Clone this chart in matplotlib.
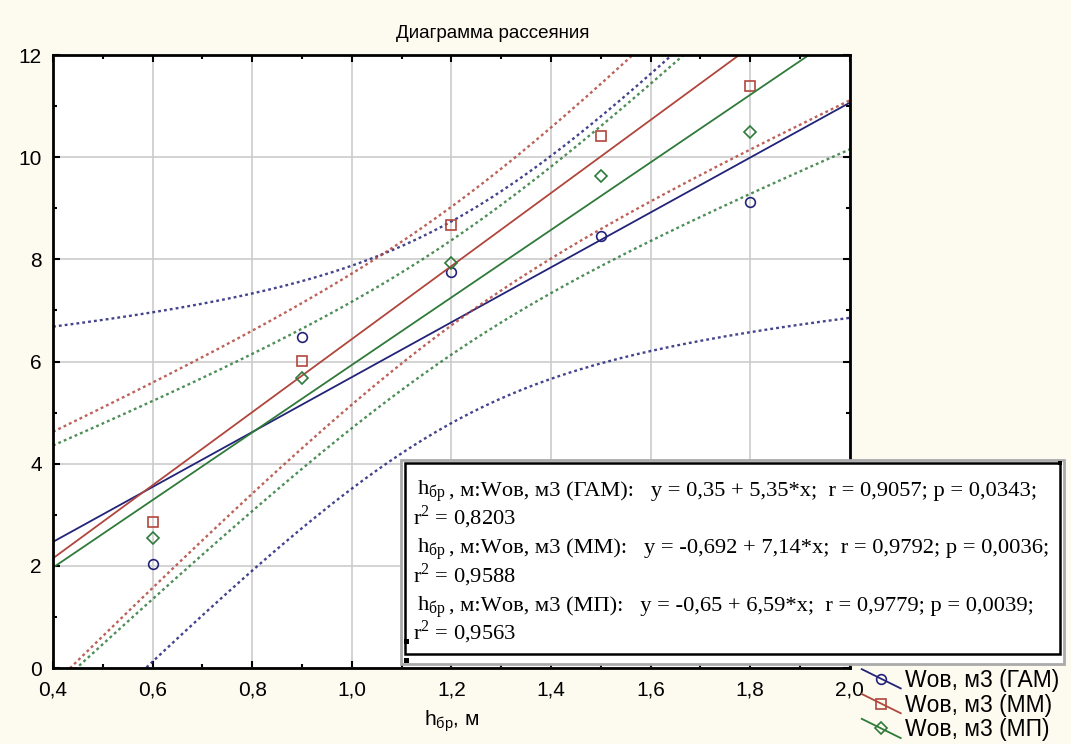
import numpy as np
import matplotlib.pyplot as plt
from matplotlib.ticker import MultipleLocator, FuncFormatter
from matplotlib.legend_handler import HandlerLine2D
from matplotlib.lines import Line2D
from matplotlib.patches import Rectangle
from matplotlib.transforms import offset_copy

# h_бр, м
x = np.array([0.6, 0.9, 1.2, 1.5, 1.8])
# Wов, м3 for three methods
w_gam = np.array([2.04, 6.49, 7.75, 8.45, 9.12])
w_mm = np.array([2.86, 6.02, 8.67, 10.41, 11.39])
w_mp = np.array([2.55, 5.68, 7.93, 9.63, 10.49])

names = ["Wов, м3 (ГАМ)", "Wов, м3 (ММ)", "Wов, м3 (МП)"]
colors = ["#23237a", "#b0463c", "#2f7a3a"]
markers = ["o", "s", "D"]
msizes = [7, 7, 6]

stats = [
    ("ГАМ", "y = 0,35 + 5,35*x;  r = 0,9057; p = 0,0343;", "0,8203"),
    ("ММ", "y = -0,692 + 7,14*x;  r = 0,9792; p = 0,0036;", "0,9588"),
    ("МП", "y = -0,65 + 6,59*x;  r = 0,9779; p = 0,0039;", "0,9563"),
]

T_975_3 = 3.182  # t quantile, 3 dof


class DiagHandler(HandlerLine2D):
    # legend key drawn as a slanted line with the marker in the middle
    def create_artists(self, legend, orig, xd, yd, width, height, fontsize, trans):
        ymid = (height - yd) / 2
        ln = Line2D([-xd, -xd + width], [ymid + 0.6 * height, ymid - 0.6 * height],
                    color=orig.get_color(), lw=orig.get_linewidth(), transform=trans)
        mk = Line2D([-xd + width / 2], [ymid], ls="none",
                    marker=orig.get_marker(), ms=orig.get_markersize(), mfc="none",
                    mec=orig.get_color(), mew=1.2, transform=trans)
        return [ln, mk]


plt.rcParams['font.family'] = ['Liberation Sans', 'DejaVu Sans']
plt.rcParams['mathtext.fontset'] = 'custom'
plt.rcParams['mathtext.rm'] = 'Liberation Serif'
fig = plt.figure(figsize=(10.71, 7.44), dpi=100, facecolor="#fdfbf0")
ax = fig.add_axes([0.0495, 0.102, 0.744, 0.824])

xs = np.linspace(0.4, 2.0, 200)
handles = []
for y, c, m, ms, name in zip([w_gam, w_mm, w_mp], colors, markers, msizes, names):
    b, a = np.polyfit(x, y, 1)
    fit = a + b * xs
    res = y - (a + b * x)
    s = np.sqrt(np.sum(res ** 2) / (len(x) - 2))
    sxx = np.sum((x - x.mean()) ** 2)
    half = T_975_3 * s * np.sqrt(1 / len(x) + (xs - x.mean()) ** 2 / sxx)
    ax.plot(xs, fit, color=c, lw=1.3)
    ax.plot(xs, fit + half, color=c, lw=1.7, ls=(0, (1.2, 1.3)), alpha=0.85)
    ax.plot(xs, fit - half, color=c, lw=1.7, ls=(0, (1.2, 1.3)), alpha=0.85)
    ax.plot(x, y, ls="none", marker=m, ms=ms, mfc="none", mec=c, mew=1.2)
    h, = ax.plot([], [], color=c, lw=1.3, marker=m, ms=ms, label=name)
    handles.append(h)

ax.set_xlim(0.4, 2.0)
ax.set_ylim(0, 12)
ax.xaxis.set_major_locator(MultipleLocator(0.2))
ax.xaxis.set_minor_locator(MultipleLocator(0.1))
ax.yaxis.set_major_locator(MultipleLocator(2))
ax.yaxis.set_minor_locator(MultipleLocator(1))
ax.xaxis.set_major_formatter(FuncFormatter(lambda v, p: f"{v:.1f}".replace(".", ",")))
ax.yaxis.set_major_formatter(FuncFormatter(lambda v, p: f"{v:.0f}"))
ax.tick_params(which="both", direction="in", top=True, right=True, labelsize=15, width=1.5)
ax.tick_params(axis="x", which="major", pad=9)
ax.tick_params(axis="y", which="major", pad=8)
ax.tick_params(which="major", length=5)
ax.tick_params(which="minor", length=3)
ax.grid(True, which="major", color="#cccccc", lw=1.2)
ax.set_axisbelow(True)
for sp in ax.spines.values():
    sp.set_linewidth(2)

fig.text(0.46, 0.955, "Диаграмма рассеяния", fontsize=13.5, ha="center", va="center")
ax.set_xlabel(r"h$_{\mathregular{бр}}$, м", fontsize=15, labelpad=6)

# statistics box: grey outer frame, black inner frame
fig.patches.append(Rectangle((0.3745, 0.108), 0.6185, 0.274, transform=fig.transFigure,
                             fc="white", ec="#aaaaaa", lw=2, zorder=5))
fig.patches.append(Rectangle((0.378, 0.121), 0.6115, 0.2565, transform=fig.transFigure,
                             fc="white", ec="black", lw=1.8, zorder=6))
for px, py in [(0.3795, 0.138), (0.3795, 0.112), (0.9895, 0.378)]:
    fig.patches.append(Rectangle((px - 0.002, py - 0.003), 0.004, 0.006,
                                 transform=fig.transFigure, fc="black", ec="none", zorder=7))

renderer = fig.canvas.get_renderer()
line_h = 0.0388
y0 = 0.334
for i, (grp, eq, r2) in enumerate(stats):
    ya = y0 - 2 * i * line_h
    t1 = fig.text(0.389, ya, r"h$_{\mathregular{бр}}$", fontsize=16.2,
                  family="Liberation Serif", va="baseline", ha="left", zorder=8)
    w = t1.get_window_extent(renderer).width
    fig.text(0.389, ya, ", м:Wов, м3 (" + grp + "):   " + eq, fontsize=16.2,
             family="Liberation Serif", va="baseline", ha="left", zorder=8,
             transform=offset_copy(fig.transFigure, fig=fig, x=w + 4, y=0, units="dots"))
    fig.text(0.386, ya - line_h, "r$^2$ = " + r2, fontsize=16.2,
             family="Liberation Serif", va="baseline", ha="left", zorder=8)

leg = fig.legend(handles=handles, loc="lower right", bbox_to_anchor=(1.0, -0.012),
                 frameon=False, fontsize=16.5, handlelength=1.7, handletextpad=0.2,
                 labelspacing=0.08, borderaxespad=0.1,
                 handler_map={Line2D: DiagHandler()})

fig.savefig("out.png", dpi=100, facecolor=fig.get_facecolor())
